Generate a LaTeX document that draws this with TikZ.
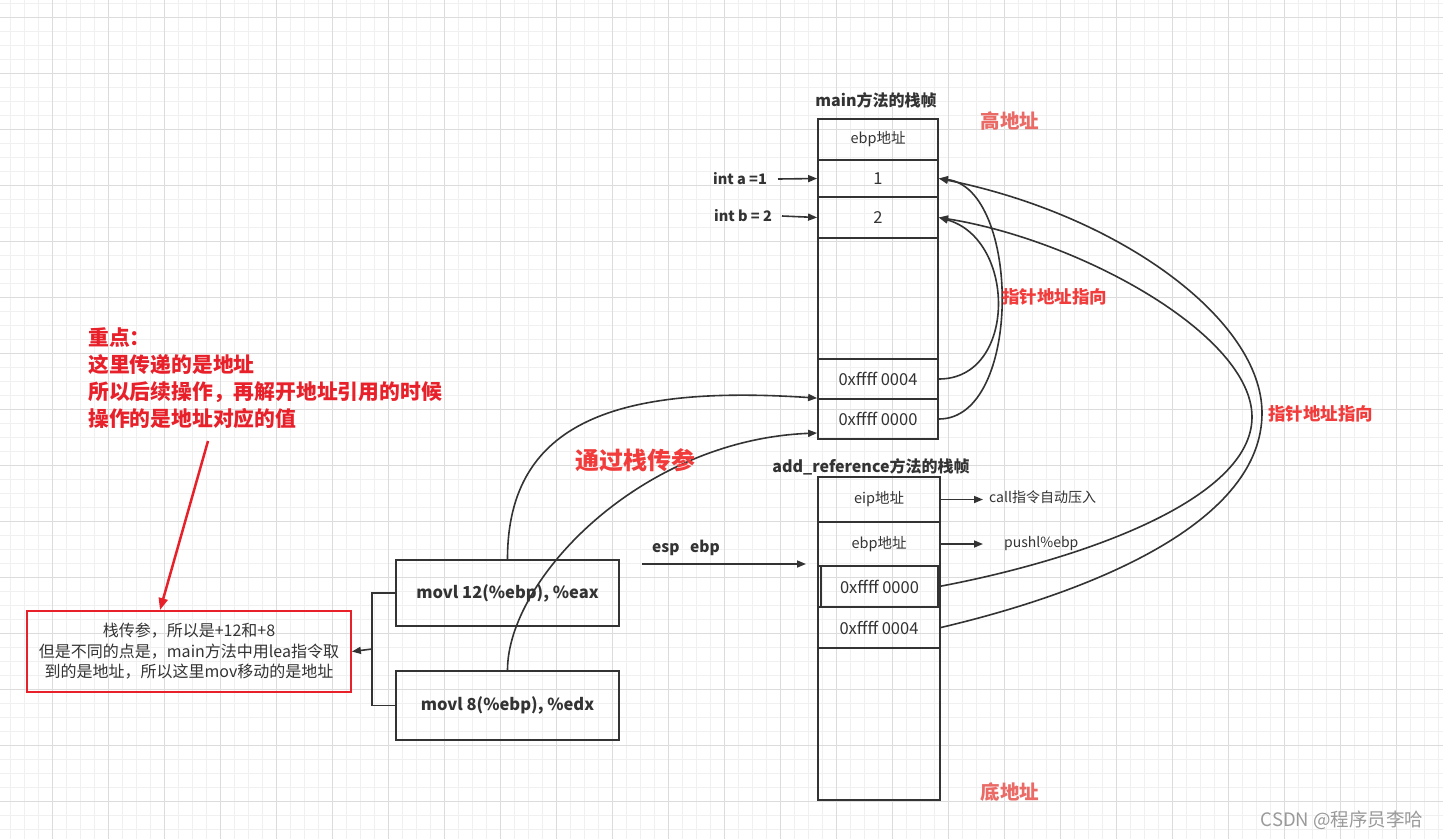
\documentclass[tikz,border=0pt]{standalone}
\usepackage{fontspec}
\setmainfont{Noto Sans CJK SC}
\usetikzlibrary{arrows.meta,calc}
\definecolor{ink}{HTML}{333333}
\definecolor{txt}{HTML}{333333}
\definecolor{salmon}{HTML}{EA6B66}
\definecolor{hot}{HTML}{F23C3C}
\definecolor{pure}{HTML}{E8202A}
\definecolor{gmin}{HTML}{F0F0F0}
\definecolor{gmaj}{HTML}{DCDCDC}
\definecolor{wm}{HTML}{9A9A9A}
\begin{document}
\begin{tikzpicture}[x=1pt,y=-1pt,
  cell/.style={draw=ink,line width=1.8pt,rectangle,minimum width=120pt,inner sep=0pt,
    font=\fontsize{14.5}{16}\selectfont,text=txt},
  num/.style={font=\fontsize{16.5}{18}\selectfont},
  frame/.style={draw=ink,line width=2.6pt,rectangle,inner sep=0pt},
  codebox/.style={draw=ink,line width=1.8pt,rectangle,inner sep=0pt,minimum width=223pt,
    font=\fontsize{16.5}{18}\selectfont\bfseries,text=txt},
  lbl/.style={inner sep=1pt,text=txt,font=\fontsize{14.5}{16}\selectfont\bfseries},
  side/.style={inner sep=0pt,text=txt,font=\fontsize{14}{16}\selectfont},
  arr/.style={draw=ink,line width=1.6pt,-{Triangle[length=9pt,width=7pt]}},
  wire/.style={draw=ink,line width=1.6pt},
  hotlbl/.style={inner sep=0pt,text=hot,font=\fontsize{17.5}{20}\selectfont\bfseries},
  addr/.style={inner sep=0pt,text=salmon,font=\fontsize{19.5}{22}\selectfont\bfseries},
]
\useasboundingbox[fill=white] (0,0) rectangle (1443,839);
% grid
\foreach \i in {0,...,102} {\draw[gmin,line width=1pt] ({10+14*\i},0) -- ({10+14*\i},839);}
\foreach \j in {0,...,59} {\draw[gmin,line width=1pt] (0,{3+14*\j}) -- (1443,{3+14*\j});}
\foreach \i in {0,...,25} {\draw[gmaj,line width=1pt] ({52+56*\i},0) -- ({52+56*\i},839);}
\foreach \j in {0,...,14} {\draw[gmaj,line width=1pt] (0,{17+56*\j}) -- (1443,{17+56*\j});}

% main stack frame
\node[cell,minimum height=41pt] (m_ebp) at (878,139.5) {ebp地址};
\node[cell,num,minimum height=37pt] (m_a) at (878,178.5) {1};
\node[cell,num,minimum height=41pt] (m_b) at (878,217.5) {2};
\node[cell,minimum height=121pt] (m_empty) at (878,298.5) {};
\node[cell,num,minimum height=40pt] (m_p4) at (878,379) {0xffff 0004};
\node[cell,num,minimum height=40pt] (m_p0) at (878,419) {0xffff 0000};
\node[frame,minimum width=120pt,minimum height=320pt] (m_frame) at (878,279) {};
\node[lbl,font=\fontsize{16}{18}\selectfont\bfseries] (m_title) at (876,100) {main方法的栈帧};
\node[addr] (hi) at (1010,121) {高地址};

\node[lbl] (ia) at (740,179) {int a =1};
\node[lbl] (ib) at (743,216) {int b = 2};
\draw[arr] (778,179) -- (m_a.west);
\draw[arr] (782,216) -- (m_b.west);

% add_reference stack frame
\node[cell,minimum width=122pt,minimum height=45pt] (a_eip) at (879,499.5) {eip地址};
\node[cell,minimum width=122pt,minimum height=44pt] (a_ebp) at (879,544) {ebp地址};
\node[cell,num,minimum width=117pt,minimum height=41pt] (a_p0) at (879.5,586.5) {0xffff 0000};
\node[cell,num,minimum width=122pt,minimum height=41pt] (a_p4) at (879,627.5) {0xffff 0004};
\node[frame,minimum width=122pt,minimum height=323pt] (a_frame) at (879,638.5) {};
\node[lbl,font=\fontsize{16}{18}\selectfont\bfseries] (a_title) at (871,467) {add\_reference方法的栈帧};
\node[addr] (lo) at (1010,792) {底地址};

\node[side,anchor=west] (callt) at (989,497) {call指令自动压入};
\node[side,anchor=west] (pusht) at (1004,544) {pushl\%ebp};
\draw[arr] (a_eip.east) -- (983,499.5);
\draw[arr] (a_ebp.east) -- (983,544);

% esp ebp
\node[lbl,font=\fontsize{15.5}{18}\selectfont\bfseries] (espebp) at (686,548) {esp\ \ \ ebp};
\coordinate (espA) at (642,564);
\coordinate (espB) at (806,564);
\draw[arr] (espA) -- (espB);

% pointer curves inside main
\draw[arr] (m_p4.east) .. controls +(78,0) and +(78,22) .. (m_b.east);
\draw[arr] (m_p0.east) .. controls +(84,0) and +(82,10) .. (m_a.east);
\node[hotlbl,anchor=west] (ptr1) at (1002,297) {指针地址指向};

% big pointer curves
\draw[arr] (a_p4.east) .. controls (1100,590) and (1262,520) .. (1262,413)
  .. controls (1262,320) and (1120,215) .. (m_a.east);
\draw[arr] (a_p0.east) .. controls (1080,560) and (1252,500) .. (1252,417)
  .. controls (1252,335) and (1080,240) .. (m_b.east);
\node[hotlbl,anchor=west] (ptr2) at (1268,414) {指针地址指向};

% movl boxes
\node[codebox,minimum height=66pt] (mv1) at (507.5,593) {movl 12(\%ebp), \%eax};
\node[codebox,minimum height=69pt] (mv2) at (507.5,705.5) {movl 8(\%ebp), \%edx};

\coordinate (lowA) at ($(m_p0.north west)$);
\coordinate (lowB) at ($(m_p0.west)+(0,14)$);
\draw[arr] (mv1.north) .. controls (507.5,420) and (620,385) .. (lowA);
\draw[arr] (mv2.north) .. controls (507.5,580) and (640,440) .. (lowB);
\node[inner sep=0pt,text=hot,font=\fontsize{24}{26}\selectfont\bfseries] (stackpass) at (635,460) {通过栈传参};

% note box
\node[draw=pure,line width=1.8pt,rectangle,minimum width=324pt,minimum height=81pt,inner sep=0pt,
  align=center,text=txt,font=\fontsize{16}{20.5}\selectfont] (note) at (189,651.5)
  {栈传参，所以是+12和+8\\但是不同的点是，main方法中用lea指令取\\到的是地址，所以这里mov移动的是地址};
\coordinate (br) at (372,649);
\draw[wire] (mv1.west) -| (br) |- (mv2.west);
\draw[arr] (br) -- (note.east);

% key point text
\node[anchor=north west,align=left,inner sep=0pt,text=pure,font=\fontsize{20.8}{27}\selectfont\bfseries] (key) at (88,327)
  {重点：\\这里传递的是地址\\所以后续操作，再解开地址引用的时候\\操作的是地址对应的值};
\coordinate (keyA) at (208,441);
\draw[draw=pure,line width=2.5pt,-{Triangle[length=12pt,width=9pt]}] (keyA) -- (note.north -| 160,0);

% watermark
\node[inner sep=0pt,text=wm,font=\fontsize{18.5}{20}\selectfont] (mark) at (1342,820) {CSDN @程序员李哈};
\end{tikzpicture}
\end{document}
